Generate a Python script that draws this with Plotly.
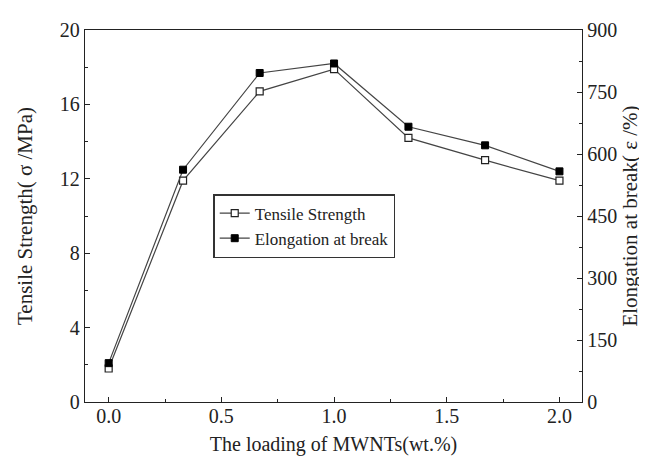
import plotly.graph_objects as go

loading = [0.0, 0.33, 0.67, 1.0, 1.33, 1.67, 2.0]
tensile = [1.8, 11.9, 16.7, 17.9, 14.2, 13.0, 11.9]
elongation = [94, 562, 796, 819, 666, 621, 558]

FONT = "Liberation Serif"

fig = go.Figure()
fig.add_trace(go.Scatter(
    x=loading, y=tensile, name="Tensile Strength", mode="lines+markers",
    line=dict(color="#444", width=1.2),
    marker=dict(symbol="square", size=7, color="white", line=dict(color="#222", width=1.2)),
))
fig.add_trace(go.Scatter(
    x=loading, y=elongation, name="Elongation at break", mode="lines+markers", yaxis="y2",
    line=dict(color="#444", width=1.2),
    marker=dict(symbol="square", size=7, color="black", line=dict(color="black", width=1)),
))

axis_common = dict(
    showline=True, linecolor="#222", linewidth=1.3, ticks="inside", ticklen=5,
    tickcolor="#222", showgrid=False, zeroline=False,
    tickfont=dict(family=FONT, size=20, color="#222"),
)

fig.update_layout(
    width=647, height=459,
    margin=dict(l=77, r=73, t=22, b=65),
    paper_bgcolor="white", plot_bgcolor="white",
    font=dict(family=FONT, color="#222"),
    xaxis=dict(range=[-0.105, 2.1], tickvals=[0, 0.5, 1.0, 1.5, 2.0],
               ticktext=["0.0", "0.5", "1.0", "1.5", "2.0"], mirror=True,
               ticklabelstandoff=-4,
               minor=dict(ticks="inside", ticklen=3, tickcolor="#222", tickvals=[0.25, 0.75, 1.25, 1.75]),
               title=dict(text="The loading of MWNTs(wt.%)", font=dict(family=FONT, size=20), standoff=10),
               **axis_common),
    yaxis=dict(range=[0, 20], dtick=4,
               minor=dict(ticks="inside", ticklen=3, tickcolor="#222", dtick=2),
               title=dict(text="Tensile Strength( σ /MPa)", font=dict(family=FONT, size=21), standoff=21),
               **axis_common),
    yaxis2=dict(range=[0, 900], dtick=150, overlaying="y", side="right",
                minor=dict(ticks="inside", ticklen=3, tickcolor="#222", dtick=75),
                title=dict(text="Elongation at break( ε /%)", font=dict(family=FONT, size=21), standoff=6),
                **axis_common),
    legend=dict(x=0.258, y=0.559, xanchor="left", yanchor="top",
                bordercolor="#333", borderwidth=1.5, bgcolor="white",
                font=dict(family=FONT, size=17, color="#222"),
                itemwidth=30, tracegroupgap=0),
    showlegend=True,
)

fig.write_html("out.html")
